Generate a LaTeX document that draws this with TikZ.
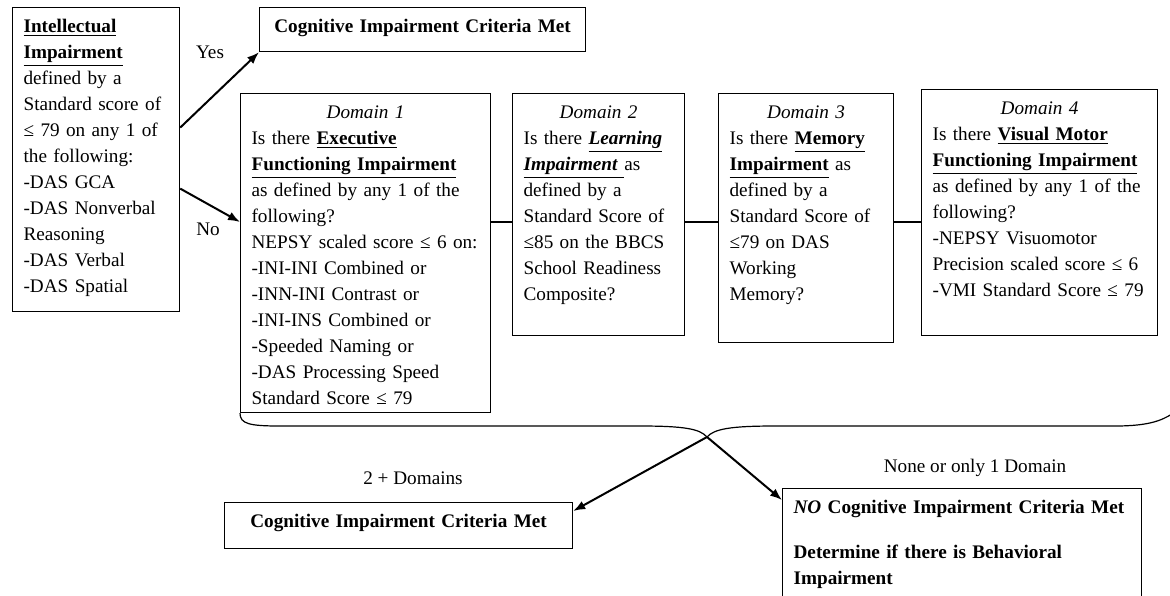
\documentclass[tikz,border=0pt]{standalone}
\usepackage{fontspec}
\setmainfont{Liberation Serif}
\usetikzlibrary{arrows.meta}

\newcommand{\domainhead}[1]{\makebox[\linewidth]{\textit{Domain #1}}}
\newcommand{\keyterm}[1]{\underline{\textbf{#1}}}

\tikzset{
  box/.style={draw, line width=0.6pt, anchor=north west, align=left,
    inner xsep=5.5pt, inner ysep=5.5pt, text height=7pt,
    font=\fontsize{9.6}{13}\selectfont},
  arr/.style={line width=1pt, -{Latex[length=6pt,width=4.5pt]}},
  lbl/.style={font=\fontsize{9.6}{13}\selectfont},
}

\begin{document}
\begin{tikzpicture}[x=0.5pt, y=-0.5pt]
\useasboundingbox (0,0) rectangle (1170,595);

\node [box, text width=72.5pt, text depth=134pt] (intel) at (12,7) {\keyterm{Intellectual}\\
\keyterm{Impairment}\\
defined by a\\
Standard score of\\
≤ 79 on any 1 of\\
the following:\\
-DAS GCA\\
-DAS Nonverbal\\
Reasoning\\
-DAS Verbal\\
-DAS Spatial};
\node [box, align=center, text width=152pt, text depth=4pt] (yesbox) at (259,7) {\textbf{Cognitive Impairment Criteria Met}};

\node [box, text width=114pt, text depth=141.5pt] (d1) at (240,93) {\domainhead{1}\\
Is there \keyterm{Executive}\\
\keyterm{Functioning Impairment}\\
as defined by any 1 of the\\
following?\\
NEPSY scaled score ≤ 6 on:\\
-INI-INI Combined or\\
-INN-INI Contrast or\\
-INI-INS Combined or\\
-Speeded Naming or\\
-DAS Processing Speed\\
Standard Score ≤ 79};
\node [box, text width=75pt, text depth=103pt] (d2) at (512,93) {\domainhead{2}\\
Is there \underline{\textbf{\textit{Learning}}}\\
\underline{\textbf{\textit{Impairment}} }as\\
defined by a\\
Standard Score of\\
≤85 on the BBCS\\
School Readiness\\
Composite?};
\node [box, text width=76.5pt, text depth=106.5pt] (d3) at (718,93) {\domainhead{3}\\
Is there \keyterm{Memory}\\
\keyterm{Impairment} as\\
defined by a\\
Standard Score of\\
≤79 on DAS\\
Working\\
Memory?};
\node [box, text width=107pt, text depth=105pt] (d4) at (921,89) {\domainhead{4}\\
Is there \keyterm{Visual Motor}\\
\keyterm{Functioning Impairment}\\
as defined by any 1 of the\\
following?\\
-NEPSY Visuomotor\\
Precision scaled score ≤ 6\\
-VMI Standard Score ≤ 79};

\node [box, align=center, text width=163pt, text depth=5pt] (blbox) at (224,502) {\textbf{Cognitive Impairment Criteria Met}};
\node [box, text width=168.5pt, text depth=42pt] (brbox) at (782,488) {\mbox{\textbf{\textit{NO} Cognitive Impairment Criteria Met}}\\[9.5pt]
\textbf{Determine if there is Behavioral}\\
\textbf{Impairment}};

\node [lbl] (yes) at (210,52) {Yes};
\node [lbl] (no) at (208,229) {No};
\node [lbl] (twoplus) at (413,478) {2 + Domains};
\node [lbl] (noneone) at (975,468) {None or only 1 Domain};

\coordinate (rowline) at (0,222);
\coordinate (tip) at (707,437);
\coordinate (braceend) at (1172,414);

\draw [arr] ([yshift=16pt]intel.east) -- (yesbox.south west);
\draw [arr] ([yshift=-14.5pt]intel.east) -- (d1.west |- rowline);
\draw [line width=0.6pt] (d1.east |- rowline) -- (d2.west |- rowline);
\draw [line width=0.6pt] (d2.east |- rowline) -- (d3.west |- rowline);
\draw [line width=0.6pt] (d3.east |- rowline) -- (d4.west |- rowline);

% brace under the four domains
\draw [line width=0.6pt] (d1.south west) .. controls (240,424) and (250,426) .. (280,426) -- (640,426)
  .. controls (685,426) and (700,429) .. (tip) .. controls (714,429) and (730,426) .. (775,426)
  -- (1115,426) .. controls (1150,426) and (1162,420) .. (braceend);

\draw [arr] (tip) -- ([yshift=-4.5pt]blbox.north east);
\draw [arr] (tip) -- ([yshift=-6pt]brbox.north west);
\end{tikzpicture}
\end{document}
